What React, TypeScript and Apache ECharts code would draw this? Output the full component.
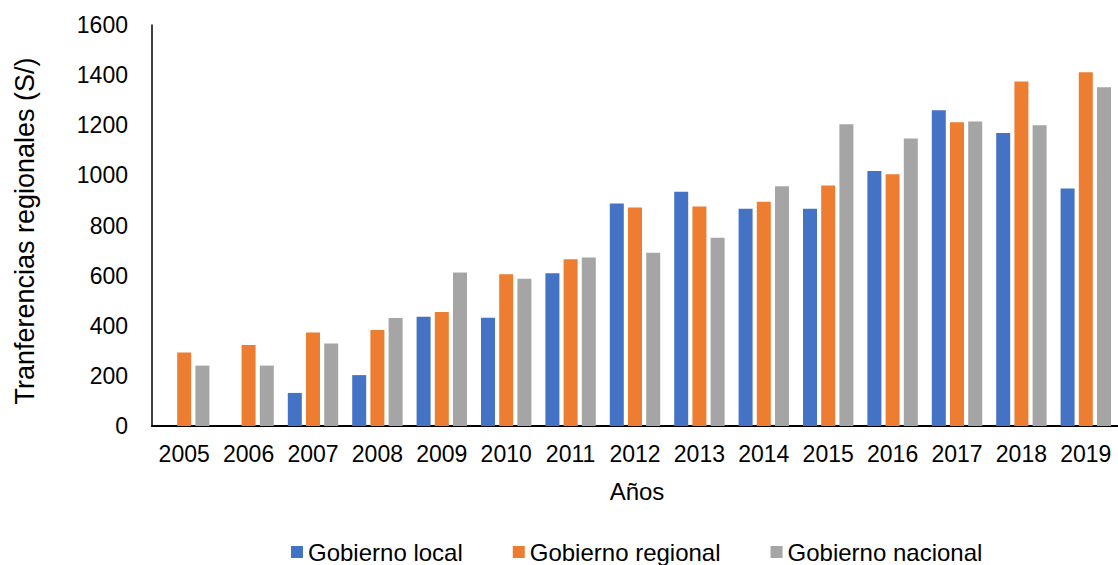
import React, { useEffect, useRef } from "react";
import * as echarts from "echarts";

// Años y transferencias por nivel de gobierno (S/)
const years = ["2005", "2006", "2007", "2008", "2009", "2010", "2011", "2012", "2013", "2014", "2015", "2016", "2017", "2018", "2019"];
const gobiernoLocal = [null, null, 132, 203, 436, 432, 609, 888, 935, 867, 867, 1017, 1260, 1169, 948];
const gobiernoRegional = [293, 323, 373, 383, 455, 605, 665, 872, 876, 895, 960, 1004, 1212, 1375, 1411];
const gobiernoNacional = [241, 241, 329, 431, 612, 588, 672, 691, 751, 957, 1204, 1147, 1215, 1200, 1352];
const yTicks = { min: 0, max: 1600, interval: 200 };

const FONT = "'Liberation Sans', Arial, sans-serif";
const COLORS = ["#4472C4", "#ED7D31", "#A5A5A5"];

export default function App() {
  const ref = useRef<HTMLDivElement>(null);

  useEffect(() => {
    if (!ref.current) return;
    const chart = echarts.init(ref.current, null, { renderer: "svg" });
    const bar = (name: string, data: (number | null)[], color: string) => ({
      name,
      type: "bar",
      data,
      barWidth: 14,
      barGap: "30%",
      itemStyle: { color },
    });
    chart.setOption({
      animation: false,
      backgroundColor: "#ffffff",
      textStyle: { fontFamily: FONT, color: "#000" },
      grid: { left: 152, top: 25, width: 969, bottom: 139, containLabel: false },
      xAxis: {
        type: "category",
        data: years,
        axisLine: { lineStyle: { color: "#000", width: 2 } },
        axisTick: { show: false },
        axisLabel: { color: "#000", fontSize: 23, fontFamily: FONT, margin: 16, interval: 0 },
      },
      yAxis: {
        type: "value",
        min: yTicks.min,
        max: yTicks.max,
        interval: yTicks.interval,
        axisLine: { show: true, lineStyle: { color: "#000", width: 1.5 } },
        axisTick: { show: false },
        splitLine: { show: false },
        axisLabel: {
          color: "#000",
          fontSize: 23,
          fontFamily: FONT,
          margin: 24,
          formatter: (v: number) => String(v),
        },
      },
      legend: {
        left: 291,
        top: 540,
        padding: 0,
        itemWidth: 12,
        itemHeight: 12,
        itemGap: 50,
        icon: "rect",
        textStyle: { color: "#000", fontSize: 24, fontFamily: FONT, padding: [0, 0, 0, 0] },
        data: ["Gobierno local", "Gobierno regional", "Gobierno nacional"],
      },
      graphic: [
        {
          type: "text",
          x: 25,
          y: 231,
          rotation: Math.PI / 2,
          style: {
            text: "Tranferencias regionales (S/)",
            fontSize: 27,
            fontFamily: FONT,
            fill: "#000",
            align: "center",
            verticalAlign: "middle",
          },
        },
        {
          type: "text",
          x: 637,
          y: 491,
          style: {
            text: "Años",
            fontSize: 24,
            fontFamily: FONT,
            fill: "#000",
            align: "center",
            verticalAlign: "middle",
          },
        },
      ],
      series: [
        bar("Gobierno local", gobiernoLocal, COLORS[0]),
        bar("Gobierno regional", gobiernoRegional, COLORS[1]),
        bar("Gobierno nacional", gobiernoNacional, COLORS[2]),
      ],
    });
    return () => chart.dispose();
  }, []);

  return (
    <div
      ref={ref}
      style={{ position: "fixed", left: 0, top: 0, width: 1118, height: 565, background: "#fff" }}
    />
  );
}
